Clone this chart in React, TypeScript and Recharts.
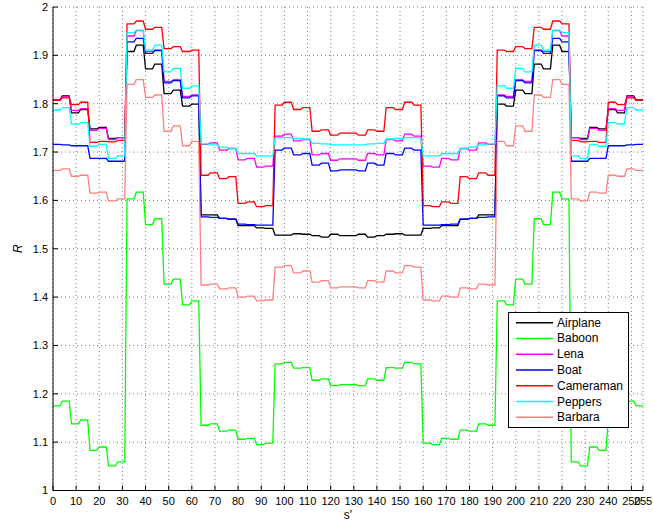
import React from 'react';
import { LineChart, Line, XAxis, YAxis, CartesianGrid, Legend, Label } from 'recharts';

const FONT = '"Liberation Sans", Arial, Helvetica, sans-serif';

const seriesNames = ['Airplane', 'Baboon', 'Lena', 'Boat', 'Cameraman', 'Peppers', 'Barbara'];
const seriesColors = ['#000000', '#00ff00', '#ff00ff', '#0000ff', '#ff0000', '#00ffff', '#ff8080'];

// start of each constant step of s'
const stepStart = [
  0, 4, 8, 12, 16, 20, 24, 28, 32, 36, 40, 44, 48, 52, 56, 60,
  64, 68, 72, 76, 80, 84, 88, 92, 96, 100, 104, 108, 112, 116, 120, 124,
  128, 132, 136, 140, 144, 148, 152, 156, 160, 164, 168, 172, 176, 180, 184, 188,
  192, 196, 200, 204, 208, 212, 216, 220, 224, 228, 232, 236, 240, 244, 248, 252,
];

const xTicks = [0, 10, 20, 30, 40, 50, 60, 70, 80, 90, 100, 110, 120, 130, 140, 150, 160, 170, 180, 190, 200, 210, 220, 230, 240, 250, 255];
const yTicks = [1, 1.1, 1.2, 1.3, 1.4, 1.5, 1.6, 1.7, 1.8, 1.9, 2];
const yTickLabels = ['1', '1.1', '1.2', '1.3', '1.4', '1.5', '1.6', '1.7', '1.8', '1.9', '2'];

const airplane = [
  1.808, 1.816, 1.781, 1.788, 1.748, 1.751, 1.728, 1.730,
  1.908, 1.921, 1.872, 1.882, 1.821, 1.828, 1.795, 1.799,
  1.570, 1.570, 1.563, 1.561, 1.548, 1.548, 1.543, 1.542,
  1.528, 1.528, 1.531, 1.530, 1.527, 1.524, 1.530, 1.527,
  1.527, 1.530, 1.524, 1.527, 1.530, 1.531, 1.528, 1.528,
  1.542, 1.543, 1.548, 1.548, 1.561, 1.563, 1.570, 1.570,
  1.799, 1.795, 1.828, 1.821, 1.882, 1.872, 1.921, 1.908,
  1.730, 1.728, 1.751, 1.748, 1.788, 1.781, 1.816, 1.808,
];
const baboon = [
  1.175, 1.185, 1.138, 1.146, 1.083, 1.090, 1.051, 1.059,
  1.603, 1.617, 1.550, 1.562, 1.427, 1.437, 1.384, 1.392,
  1.135, 1.138, 1.123, 1.125, 1.106, 1.108, 1.095, 1.098,
  1.262, 1.265, 1.253, 1.254, 1.228, 1.231, 1.217, 1.219,
  1.219, 1.217, 1.231, 1.228, 1.254, 1.253, 1.265, 1.262,
  1.098, 1.095, 1.108, 1.106, 1.125, 1.123, 1.138, 1.135,
  1.392, 1.384, 1.437, 1.427, 1.562, 1.550, 1.617, 1.603,
  1.059, 1.051, 1.090, 1.083, 1.146, 1.138, 1.185, 1.175,
];
const lena = [
  1.807, 1.814, 1.786, 1.790, 1.745, 1.749, 1.726, 1.730,
  1.940, 1.951, 1.908, 1.911, 1.846, 1.849, 1.815, 1.818,
  1.716, 1.719, 1.704, 1.707, 1.684, 1.687, 1.669, 1.671,
  1.733, 1.737, 1.723, 1.726, 1.694, 1.697, 1.683, 1.686,
  1.686, 1.683, 1.697, 1.694, 1.726, 1.723, 1.737, 1.733,
  1.671, 1.669, 1.687, 1.684, 1.707, 1.704, 1.719, 1.716,
  1.818, 1.815, 1.849, 1.846, 1.911, 1.908, 1.951, 1.940,
  1.730, 1.726, 1.749, 1.745, 1.790, 1.786, 1.814, 1.807,
];
const boat = [
  1.716, 1.715, 1.713, 1.713, 1.687, 1.687, 1.681, 1.681,
  1.928, 1.935, 1.904, 1.910, 1.843, 1.848, 1.812, 1.816,
  1.566, 1.565, 1.563, 1.561, 1.551, 1.550, 1.549, 1.549,
  1.704, 1.708, 1.694, 1.697, 1.673, 1.677, 1.661, 1.663,
  1.663, 1.661, 1.677, 1.673, 1.697, 1.694, 1.708, 1.704,
  1.549, 1.549, 1.550, 1.551, 1.561, 1.563, 1.565, 1.566,
  1.816, 1.812, 1.848, 1.843, 1.910, 1.904, 1.935, 1.928,
  1.681, 1.681, 1.687, 1.687, 1.713, 1.713, 1.715, 1.716,
];
const cameraman = [
  1.807, 1.812, 1.798, 1.803, 1.720, 1.722, 1.721, 1.724,
  1.965, 1.971, 1.954, 1.958, 1.914, 1.918, 1.908, 1.911,
  1.652, 1.657, 1.645, 1.649, 1.594, 1.597, 1.587, 1.589,
  1.797, 1.803, 1.788, 1.792, 1.743, 1.746, 1.735, 1.739,
  1.739, 1.735, 1.746, 1.743, 1.792, 1.788, 1.803, 1.797,
  1.589, 1.587, 1.597, 1.594, 1.649, 1.645, 1.657, 1.652,
  1.911, 1.908, 1.918, 1.914, 1.958, 1.954, 1.971, 1.965,
  1.724, 1.721, 1.722, 1.720, 1.803, 1.798, 1.812, 1.807,
];
const peppers = [
  1.787, 1.792, 1.758, 1.761, 1.712, 1.716, 1.687, 1.692,
  1.947, 1.952, 1.911, 1.921, 1.866, 1.873, 1.832, 1.837,
  1.717, 1.715, 1.710, 1.708, 1.697, 1.697, 1.692, 1.692,
  1.730, 1.730, 1.728, 1.727, 1.718, 1.717, 1.715, 1.715,
  1.715, 1.715, 1.717, 1.718, 1.727, 1.728, 1.730, 1.730,
  1.692, 1.692, 1.697, 1.697, 1.708, 1.710, 1.715, 1.717,
  1.837, 1.832, 1.873, 1.866, 1.921, 1.911, 1.952, 1.947,
  1.692, 1.687, 1.716, 1.712, 1.761, 1.758, 1.792, 1.787,
];
const barbara = [
  1.662, 1.665, 1.650, 1.652, 1.615, 1.617, 1.599, 1.603,
  1.840, 1.850, 1.813, 1.818, 1.743, 1.754, 1.713, 1.722,
  1.425, 1.427, 1.417, 1.419, 1.400, 1.402, 1.392, 1.394,
  1.462, 1.465, 1.450, 1.454, 1.431, 1.434, 1.419, 1.421,
  1.421, 1.419, 1.434, 1.431, 1.454, 1.450, 1.465, 1.462,
  1.394, 1.392, 1.402, 1.400, 1.419, 1.417, 1.427, 1.425,
  1.722, 1.713, 1.754, 1.743, 1.818, 1.813, 1.850, 1.840,
  1.603, 1.599, 1.617, 1.615, 1.652, 1.650, 1.665, 1.662,
];

const seriesValues = [airplane, baboon, lena, boat, cameraman, peppers, barbara];

// each step holds its value from its start to the last sample before the next step
const data: Record<string, number>[] = [];
stepStart.forEach((s, k) => {
  const first: Record<string, number> = { s };
  const last: Record<string, number> = { s: s + 3 };
  seriesNames.forEach((name, i) => {
    first[name] = seriesValues[i][k];
    last[name] = seriesValues[i][k];
  });
  data.push(first, last);
});

const LegendBox = () => (
  <svg width={121} height={116} style={{ display: 'block' }}>
    <rect x={0.5} y={0.5} width={120} height={115} fill="#fff" stroke="#000" strokeWidth={1} />
    {seriesNames.map((name, i) => {
      const cy = 10.7 + i * 15.77;
      return (
        <g key={name}>
          <line x1={8} x2={45} y1={cy} y2={cy} stroke={seriesColors[i]} strokeWidth={1.5} />
          <text x={49} y={cy} dominantBaseline="central" fontSize={12} fontFamily={FONT} fill="#000">
            {name}
          </text>
        </g>
      );
    })}
  </svg>
);

const YLabel = (props: any) => {
  const vb = props.viewBox || {};
  const x = vb.x + 9;
  const y = vb.y + vb.height / 2;
  return (
    <text x={x} y={y} transform={`rotate(-90 ${x} ${y})`} textAnchor="middle" fontSize={12} fontStyle="italic" fontFamily={FONT} fill="#000">
      R
    </text>
  );
};

const tickStyle = { fill: '#000', fontSize: 11, fontFamily: FONT };

export default function App() {
  return (
    <div style={{ position: 'absolute', left: 0, top: 0, width: 653, height: 526, background: '#fff' }}>
      <LineChart width={653} height={526} data={data} margin={{ top: 7, right: 10, bottom: 10.5, left: 13 }}>
        <CartesianGrid stroke="#808080" strokeDasharray="1 3" strokeWidth={1} />
        <XAxis
          dataKey="s"
          type="number"
          domain={[0, 255]}
          ticks={xTicks}
          interval={0}
          tickSize={-5}
          tickMargin={12}
          height={25}
          stroke="#000"
          tick={tickStyle}
          allowDataOverflow
        >
          <Label value="s'" position="insideBottom" offset={-3} style={{ fontSize: 12, fontFamily: FONT, fill: '#000' }} />
        </XAxis>
        <XAxis
          xAxisId="top"
          orientation="top"
          dataKey="s"
          type="number"
          domain={[0, 255]}
          ticks={xTicks}
          interval={0}
          tickSize={-5}
          height={0}
          tick={false}
          stroke="#000"
          allowDataOverflow
        />
        <YAxis
          type="number"
          domain={[1, 2]}
          ticks={yTicks}
          interval={0}
          tickSize={-5}
          tickMargin={10}
          width={40}
          stroke="#000"
          tick={tickStyle}
          tickFormatter={(v: number) => yTickLabels[yTicks.indexOf(v)] ?? String(v)}
          allowDataOverflow
          label={<YLabel />}
        />
        <YAxis
          yAxisId="right"
          orientation="right"
          type="number"
          domain={[1, 2]}
          ticks={yTicks}
          interval={0}
          tickSize={-5}
          width={0}
          tick={false}
          stroke="#000"
          allowDataOverflow
        />
        {seriesNames.map((name, i) => (
          <Line
            key={name}
            type="linear"
            dataKey={name}
            stroke={seriesColors[i]}
            strokeWidth={1.3}
            dot={false}
            activeDot={false}
            isAnimationActive={false}
          />
        ))}
        <Legend
          content={<LegendBox />}
          verticalAlign="middle"
          align="center"
          layout="horizontal"
          wrapperStyle={{ left: 508, top: 312, width: 121, height: 116 }}
        />
      </LineChart>
    </div>
  );
}
